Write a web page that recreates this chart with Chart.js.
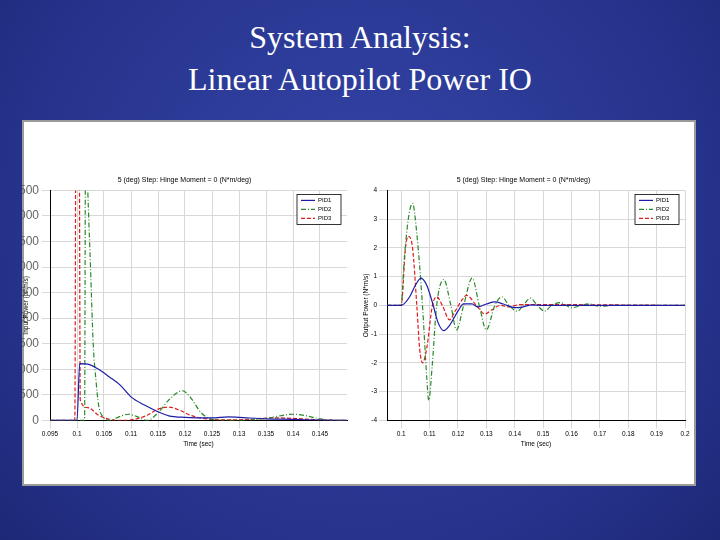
<!DOCTYPE html>
<html>
<head>
<meta charset="utf-8">
<script src="https://cdn.jsdelivr.net/npm/chart.js@4"></script>
<style>
  body { margin: 0; width: 720px; height: 540px; overflow: hidden;
         background: radial-gradient(circle at 50% 40%, #3545a8, #26338c 70%, #1d2876); font-family: "Liberation Sans", Arial, sans-serif; }
  #title { position: absolute; left: 0; top: 16px; width: 720px; text-align: center; color: #fff;
           font-family: "Liberation Serif", "Times New Roman", serif; font-size: 32px; line-height: 42px; }
  #panel { position: absolute; left: 22px; top: 120px; width: 674px; height: 366px; background: #fff;
           border: 2px solid #9a9a9a; box-sizing: border-box; }
  .wrap { position: absolute; }
</style>
</head>
<body>
<div id="title">System Analysis:<br>Linear Autopilot Power IO</div>
<div id="panel"></div>
<div class="wrap" style="left:22px;top:172px;width:335px;height:276px"><canvas id="inputChart"></canvas></div>
<div class="wrap" style="left:362px;top:172px;width:333px;height:276px"><canvas id="outputChart"></canvas></div>
<script>
// Input power (N*m/s)
const inTime1 = [0.095, 0.1, 0.1005, 0.102, 0.104, 0.106, 0.108, 0.11, 0.1125, 0.115, 0.117, 0.12, 0.125, 0.128, 0.13, 0.135, 0.14, 0.145, 0.15];
const inPid1 = [0, 0, 1110, 1100, 1000, 850, 690, 460, 300, 170, 90, 60, 50, 70, 60, 30, 20, 5, 0];
const inTime2 = [0.095, 0.1014, 0.1016, 0.102, 0.1025, 0.103, 0.1035, 0.104, 0.105, 0.106, 0.108, 0.1095, 0.111, 0.113, 0.115, 0.117, 0.1195, 0.121, 0.123, 0.125, 0.13, 0.135, 0.14, 0.142, 0.145, 0.148, 0.15];
const inPid2 = [0, 0, 6000, 4500, 3000, 1500, 800, 300, 50, 0, 80, 120, 80, 0, 150, 400, 580, 450, 150, 20, 0, 40, 120, 100, 30, 0, 0];
const inTime3 = [0.095, 0.0996, 0.0998, 0.1004, 0.1006, 0.102, 0.104, 0.106, 0.108, 0.11, 0.113, 0.115, 0.117, 0.119, 0.121, 0.124, 0.128, 0.132, 0.136, 0.14, 0.145, 0.15];
const inPid3 = [0, 0, 6000, 6000, 400, 250, 100, 20, 0, 10, 100, 220, 260, 200, 100, 30, 10, 20, 50, 40, 10, 0];

// Output power (N*m/s)
const outTime1 = [0.095, 0.1, 0.103, 0.105, 0.107, 0.109, 0.111, 0.113, 0.115, 0.117, 0.12, 0.122, 0.125, 0.127, 0.13, 0.133, 0.136, 0.14, 0.143, 0.146, 0.15, 0.2];
const outPid1 = [0, 0, 0.3, 0.7, 0.95, 0.7, 0.1, -0.6, -0.88, -0.7, -0.2, 0.05, 0.05, -0.05, 0.05, 0.12, 0.05, -0.08, -0.05, 0.02, 0, 0];
const outTime2 = [0.095, 0.1, 0.101, 0.1025, 0.104, 0.1055, 0.1075, 0.109, 0.1097, 0.111, 0.1125, 0.115, 0.1175, 0.1195, 0.122, 0.125, 0.1275, 0.13, 0.133, 0.1355, 0.138, 0.141, 0.143, 0.1455, 0.148, 0.1505, 0.153, 0.156, 0.16, 0.166, 0.17, 0.175, 0.2];
const outPid2 = [0, 0, 1.5, 3, 3.55, 2.5, 0, -2.5, -3.3, -2, 0, 0.9, 0, -0.85, 0, 0.95, 0, -0.85, 0, 0.3, 0, -0.2, 0, 0.25, 0, -0.2, 0, 0.1, -0.08, 0.05, -0.03, 0, 0];
const outTime3 = [0.095, 0.1, 0.1015, 0.1025, 0.104, 0.1055, 0.1065, 0.1075, 0.109, 0.111, 0.1125, 0.1145, 0.117, 0.119, 0.1215, 0.123, 0.1265, 0.1295, 0.132, 0.135, 0.138, 0.142, 0.2];
const outPid3 = [0, 0, 2, 2.4, 2.0, 0, -1.5, -2.0, -1.5, 0, 0.3, 0, -0.5, -0.2, 0.2, 0.35, 0, -0.3, -0.15, 0, -0.05, 0.03, 0];

// Tick positions
const inXTicks = [0.095, 0.1, 0.105, 0.11, 0.115, 0.12, 0.125, 0.13, 0.135, 0.14, 0.145];
const outXTicks = [0.1, 0.11, 0.12, 0.13, 0.14, 0.15, 0.16, 0.17, 0.18, 0.19, 0.2];

const seriesNames = ['PID1', 'PID2', 'PID3'];
const chartTitle = '5 (deg) Step: Hinge Moment = 0 (N*m/deg)';

const tickFont = { family: 'Liberation Sans', size: 6.5 };

function toPoints(xs, ys) {
    return xs.map((x, i) => ({ x: x, y: ys[i] }));
}

function makeDatasets(pairs) {
    const styles = [
        { borderColor: '#1c1ca8', borderDash: [] },
        { borderColor: '#2a8a2a', borderDash: [5, 2, 1, 2] },
        { borderColor: '#e01c1c', borderDash: [4, 2] }
    ];
    return pairs.map((p, i) => ({
        label: seriesNames[i],
        data: toPoints(p[0], p[1]),
        borderColor: styles[i].borderColor,
        borderDash: styles[i].borderDash,
        borderWidth: 1.2,
        pointRadius: 0,
        cubicInterpolationMode: 'monotone',
        fill: false
    }));
}

// legend box in the top-right of the plot, like the matlab one
const boxLegend = {
    id: 'boxLegend',
    afterDraw(chart) {
        const ctx = chart.ctx;
        const area = chart.chartArea;
        const w = 44, h = 30;
        const x = area.right - w - 6, y = area.top + 4;
        ctx.save();
        ctx.fillStyle = '#fff';
        ctx.strokeStyle = '#000';
        ctx.lineWidth = 0.8;
        ctx.fillRect(x, y, w, h);
        ctx.strokeRect(x, y, w, h);
        ctx.font = '6px "Liberation Sans"';
        ctx.textBaseline = 'middle';
        chart.data.datasets.forEach((ds, i) => {
            const ly = y + 6 + i * 9;
            ctx.strokeStyle = ds.borderColor;
            ctx.lineWidth = 1.2;
            ctx.setLineDash(ds.borderDash);
            ctx.beginPath();
            ctx.moveTo(x + 4, ly);
            ctx.lineTo(x + 18, ly);
            ctx.stroke();
            ctx.setLineDash([]);
            ctx.fillStyle = '#000';
            ctx.fillText(ds.label, x + 21, ly);
        });
        ctx.restore();
    }
};

function makeChart(id, datasets, xRange, xTicks, yRange, yTitle, yWidth) {
    return new Chart(document.getElementById(id), {
        type: 'line',
        data: { datasets: datasets },
        plugins: [boxLegend],
        options: {
            responsive: true,
            maintainAspectRatio: false,
            animation: false,
            layout: { padding: { right: 10, top: 0 } },
            plugins: {
                title: { display: true, text: chartTitle, color: '#000', font: { family: 'Liberation Sans', size: 7, weight: 'normal' }, padding: { top: 4, bottom: 6 } },
                legend: { display: false },
                tooltip: { enabled: false }
            },
            scales: {
                x: Object.assign({
                    type: 'linear',
                    grid: { color: '#d8d8d8' },
                    border: { color: '#000' },
                    title: { display: true, text: 'Time (sec)', color: '#000', font: { family: 'Liberation Sans', size: 6.5 }, padding: 0 },
                    afterBuildTicks: function(scale) { scale.ticks = xTicks.map(v => ({ value: v })); },
                    ticks: { color: '#000', font: tickFont, maxRotation: 0, autoSkip: false, padding: 2,
                             callback: v => String(Number(v.toFixed(3))) }
                }, xRange),
                y: Object.assign({
                    grid: { color: '#d8d8d8' },
                    border: { color: '#000' },
                    title: { display: true, text: yTitle, color: '#000', font: { family: 'Liberation Sans', size: 6.5 }, padding: 0 },
                    ticks: { color: '#000', font: tickFont, padding: 2, callback: v => String(v) },
                    afterFit: function(scale) { scale.width = yWidth; }
                }, yRange)
            }
        }
    });
}

makeChart('inputChart',
    makeDatasets([[inTime1, inPid1], [inTime2, inPid2], [inTime3, inPid3]]),
    { min: 0.095, max: 0.15 }, inXTicks,
    { min: 0, max: 4500, ticks: undefined },
    'Input Power (N*m/s)', 28);

makeChart('outputChart',
    makeDatasets([[outTime1, outPid1], [outTime2, outPid2], [outTime3, outPid3]]),
    { min: 0.095, max: 0.2 }, outXTicks,
    { min: -4, max: 4 },
    'Output Power (N*m/s)', 25);
</script>
</body>
</html>
